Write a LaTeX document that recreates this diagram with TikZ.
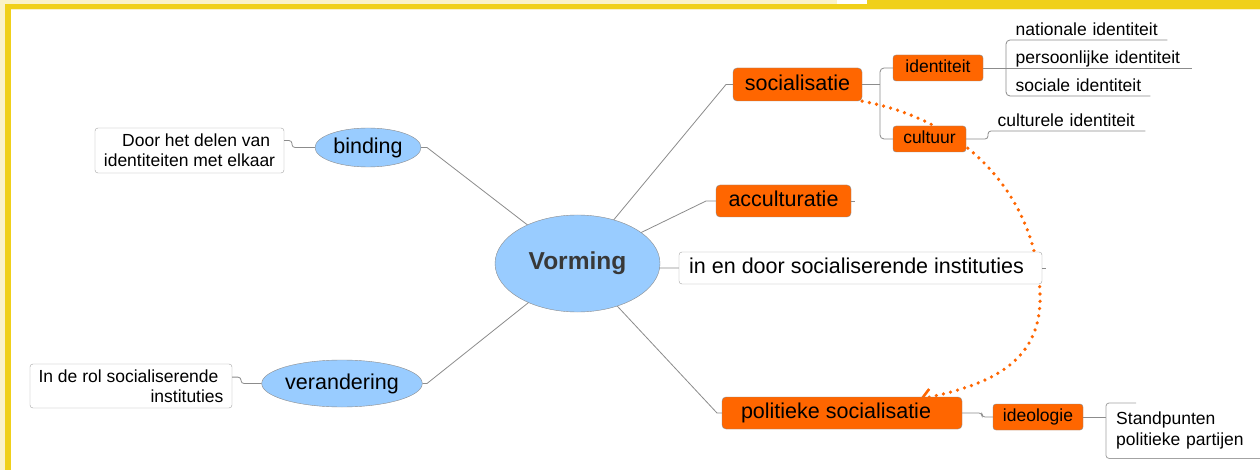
\documentclass[tikz,border=0pt]{standalone}
\usepackage{fontspec}
\setmainfont{Liberation Sans}
\usetikzlibrary{arrows,arrows.meta,shapes}
\pgfdeclarelayer{background}
\pgfsetlayers{background,main}
\definecolor{mapblue}{HTML}{99CCFF}
\definecolor{maporange}{HTML}{FF6600}
\definecolor{mapgray}{HTML}{8C8C8C}
\definecolor{frameyellow}{HTML}{F0D01A}
\definecolor{framepale}{HTML}{FAF2C8}
\tikzstyle{hub}=[ellipse,draw=mapgray,fill=mapblue,minimum width=165pt,minimum height=97pt,inner sep=0pt,text=black!78,font=\fontsize{24.5}{28}\selectfont\bfseries]
\tikzstyle{topic}=[ellipse,draw=mapgray,fill=mapblue,inner sep=0pt,text height=15.5pt,text depth=4pt,font=\fontsize{21.5}{25}\selectfont]
\tikzstyle{branch}=[rectangle,rounded corners=4pt,draw=mapgray,fill=maporange,inner sep=0pt,text height=15.5pt,text depth=4pt,font=\fontsize{21.5}{25}\selectfont]
\tikzstyle{twig}=[branch,rounded corners=3pt,text height=12.6pt,text depth=3.2pt,font=\fontsize{17.5}{20}\selectfont]
\tikzstyle{note}=[rectangle,rounded corners=3pt,draw=mapgray!80,fill=white,inner sep=0pt,font=\fontsize{17.5}{20}\selectfont]
\tikzstyle{leaf}=[anchor=south west,inner xsep=0pt,inner ysep=4pt,text depth=0pt,align=left,execute at begin node=\hspace*{9.5pt},font=\fontsize{17.5}{20}\selectfont]
\tikzstyle{edge}=[draw=mapgray,line width=0.8pt,-]
\tikzstyle{link}=[draw=maporange,line width=3.6pt,line cap=round,dash pattern=on 0pt off 7.3pt,-{Straight Barb[length=9pt,width=16pt,line width=2.6pt]}]

\begin{document}
\begin{tikzpicture}[x=1pt,y=-1pt]
    \useasboundingbox (0,0) rectangle (1260,470);
    % The centre and the two ellipses on the left
    \node[hub] (vorming) at (577.5,263.5) {Vorming};
    \node[topic,minimum width=106pt,minimum height=39pt] (binding) at (368,147.5) {binding};
    \node[topic,minimum width=158pt,minimum height=47pt] (verandering) at (342,383.5) {verandering};
    \node[note,minimum width=189pt,minimum height=45pt,align=right] (bindnote) at (189.5,150.5) {Door het delen van\hspace*{5pt}\\identiteiten met elkaar};
    \node[note,minimum width=202pt,minimum height=44pt,align=right] (verandnote) at (131,386) {In de rol socialiserende\hspace*{5pt}\\instituties};
    % Then the boxes on the right
    \node[branch,minimum width=129pt,minimum height=33pt] (soc) at (797.5,84.5) {socialisatie};
    \node[branch,minimum width=135pt,minimum height=32pt] (acc) at (783.5,201) {acculturatie};
    \node[note,minimum width=363pt,minimum height=32pt,text height=15.5pt,text depth=4pt,font=\fontsize{21.5}{25}\selectfont] (inst) at (860.5,268) {in en door socialiserende instituties\hspace*{8pt}};
    \node[branch,minimum width=240pt,minimum height=32pt] (pol) at (842,413) {politieke socialisatie\hspace*{12pt}};
    \node[twig,minimum width=90pt,minimum height=26pt] (ident) at (938,68) {identiteit};
    \node[twig,minimum width=73pt,minimum height=26pt] (cult) at (929.5,139) {cultuur};
    \node[twig,minimum width=90pt,minimum height=26pt] (ideo) at (1038,417) {ideologie};
    % Leaves with their underlines
    \node[leaf,text width=161pt] (natid) at (1006,40) {nationale identiteit};
    \node[leaf,text width=186pt] (persid) at (1006,68) {persoonlijke identiteit};
    \node[leaf,text width=144pt] (socid) at (1006,96) {sociale identiteit};
    \node[leaf,text width=157pt] (cultid) at (988,131) {culturele identiteit};
    \node[anchor=north west,inner xsep=10pt,inner ysep=6pt,text width=140pt,align=left,minimum height=55pt,font=\fontsize{17.5}{21.5}\selectfont] (stand) at (1106,403) {Standpunten\\politieke partijen};
    % Knees, forks and loose ends
    \coordinate (soc-knee) at (726,84.5);
    \coordinate (acc-knee) at (706,201);
    \coordinate (inst-knee) at (660,268);
    \coordinate (pol-knee) at (717,413);
    \coordinate (binding-knee) at (427,147.5);
    \coordinate (verandering-knee) at (427,383.5);
    \coordinate (soc-fork) at (880,84.5);
    \coordinate (pol-hook) at (982,413);
    \coordinate (bind-hook) at (292,147.5);
    \coordinate (verand-hook) at (241,383.5);
    \coordinate (acc-stub) at (855,201);
    \coordinate (inst-stub) at (1046,268);
    \coordinate (link-mid) at (1040,295);
    \coordinate (link-end) at (920,399);
    \begin{pgfonlayer}{background}
        % Frame
        \fill[white] (0,0) rectangle (1260,470);
        \fill[framepale] (0,0) rectangle (837,4);
        \fill[framepale] (0,0) rectangle (5,470);
        \fill[frameyellow] (867,0) rectangle (1260,4);
        \fill[frameyellow] (5,4) rectangle (1260,9);
        \fill[frameyellow] (5,4) rectangle (11,470);
        \fill[framepale] (11,9) rectangle (1260,10);
        % Connect the centre with its branches
        \foreach \dest in {soc,acc,inst,pol,binding,verandering}
            \path[edge] (vorming.center) -- (\dest-knee) -- (\dest);
        \path[link] (soc.south east) .. controls (975,122) and (1038,205) .. (link-mid) .. controls (1042,365) and (985,386) .. (link-end);
    \end{pgfonlayer}
    % Smaller connectors
    \path[edge] (soc.east) -- (soc-fork);
    \path[edge,rounded corners=4pt] (ident.west) -| (soc-fork) |- (cult.west);
    \path[edge] (ident.east) -- (persid.south west);
    \path[edge,rounded corners=4pt] (natid.south east) -- (natid.south west) -- (socid.south west) -- (socid.south east);
    \path[edge] (persid.south west) -- (persid.south east);
    \path[edge,rounded corners=3pt] (cult.east) -| (cultid.south west) -- (cultid.south east);
    \path[edge] (acc.east) -- (acc-stub);
    \path[edge] (inst.east) -- (inst-stub);
    \path[edge,rounded corners=3pt] (binding.west) -- (bind-hook) |- (bindnote.6);
    \path[edge,rounded corners=3pt] (verandering.west) -- (verand-hook) |- (verandnote.5);
    \path[edge,rounded corners=3pt] (pol.east) -- (pol-hook) |- (ideo.west);
    \path[edge] (ideo.east) -- (ideo.east -| stand.west);
    \path[draw=mapgray!80,line width=0.8pt,rounded corners=3pt] ([xshift=30pt]stand.north west) -- (stand.north west) -- (stand.south west) -- ([xshift=10pt]stand.south east);
\end{tikzpicture}
\end{document}
